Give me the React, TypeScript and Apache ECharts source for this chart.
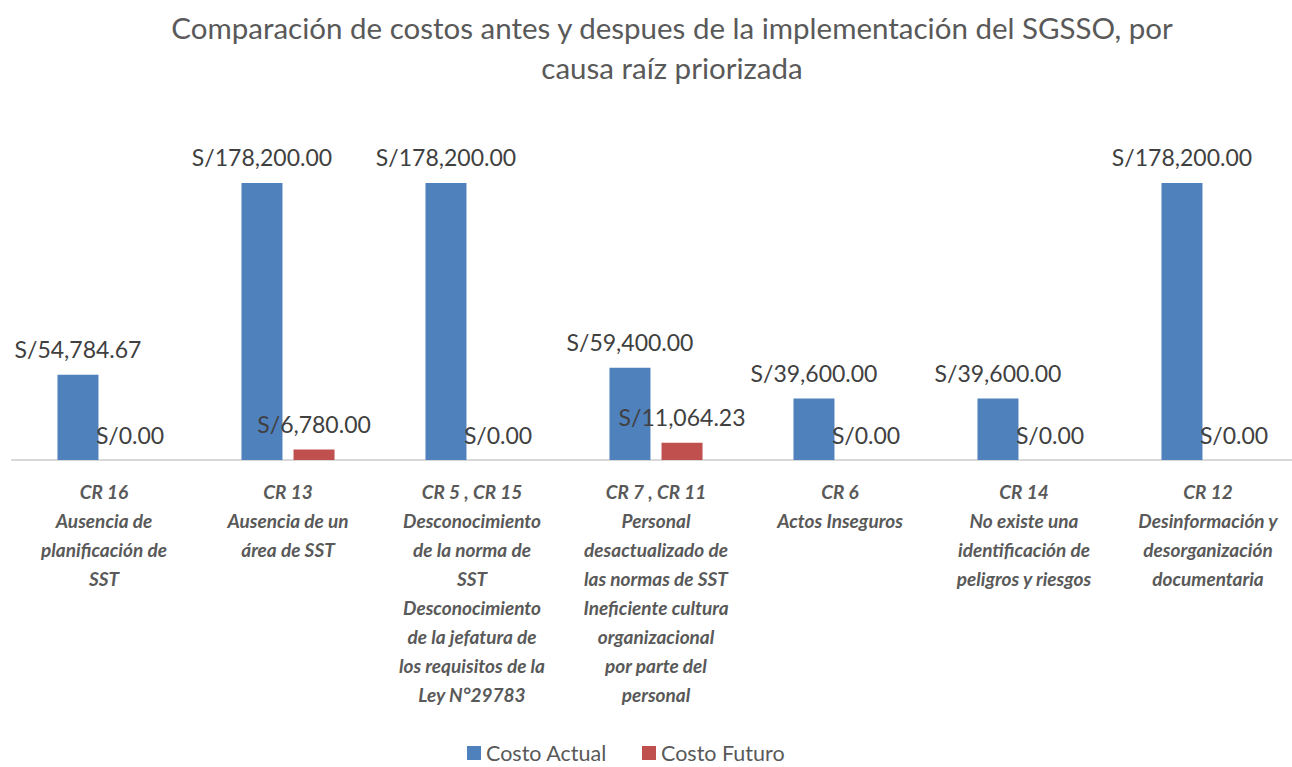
import React, { useEffect, useRef } from "react";
import * as echarts from "echarts";

const categories = [
  "CR 16\nAusencia de\nplanificación de\nSST",
  "CR 13\nAusencia de un\nárea de SST",
  "CR 5 , CR 15\nDesconocimiento\nde la norma de\nSST\nDesconocimiento\nde la jefatura de\nlos requisitos de la\nLey N°29783",
  "CR 7 , CR 11\nPersonal\ndesactualizado de\nlas normas de SST\nIneficiente cultura\norganizacional\npor parte del\npersonal",
  "CR 6\nActos Inseguros",
  "CR 14\nNo existe una\nidentificación de\npeligros y riesgos",
  "CR 12\nDesinformación y\ndesorganización\ndocumentaria",
];
const costoActual = [54784.67, 178200, 178200, 59400, 39600, 39600, 178200];
const costoFuturo = [0, 6780, 0, 11064.23, 0, 0, 0];
const seriesNames = ["Costo Actual", "Costo Futuro"];
const titleText = "Comparación de costos antes y despues de la implementación del SGSSO, por\ncausa raíz priorizada";

const FONT = "Lato, 'Open Sans', sans-serif";

const fmt = (v: number) =>
  "S/" + v.toLocaleString("en-US", { minimumFractionDigits: 2, maximumFractionDigits: 2 });

export default function App() {
  const ref = useRef<HTMLDivElement>(null);
  useEffect(() => {
    document.body.style.margin = "0";
    const chart = echarts.init(ref.current!, undefined, { renderer: "svg" });
    const label = {
      show: true,
      position: "top" as const,
      distance: 14,
      fontFamily: FONT,
      fontSize: 23,
      color: "#404040",
      formatter: (p: any) => fmt(p.value),
    };
    chart.setOption({
      animation: false,
      backgroundColor: "#ffffff",
      textStyle: { fontFamily: FONT },
      title: {
        text: titleText,
        left: 667,
        textAlign: "center",
        top: 2,
        textStyle: {
          fontFamily: FONT,
          fontSize: 29.5,
          fontWeight: "normal",
          color: "#595959",
          lineHeight: 40,
        },
      },
      legend: {
        data: seriesNames,
        left: 467,
        top: 742,
        padding: 0,
        itemWidth: 14,
        itemHeight: 14,
        itemGap: 35,
        icon: "rect",
        textStyle: { fontFamily: FONT, fontSize: 21.5, color: "#595959" },
      },
      grid: { left: 12, right: 0, top: 149, bottom: 307, containLabel: false },
      xAxis: {
        type: "category",
        data: categories,
        axisLine: { lineStyle: { color: "#D9D9D9", width: 2 } },
        axisTick: { show: false },
        axisLabel: {
          interval: 0,
          margin: 17,
          fontFamily: FONT,
          fontSize: 19,
          fontWeight: "bold",
          fontStyle: "italic",
          color: "#595959",
          lineHeight: 29,
          align: "center",
        },
      },
      yAxis: {
        type: "value",
        min: 0,
        max: 200000,
        show: false,
        splitLine: { show: false },
      },
      series: [
        {
          name: seriesNames[0],
          type: "bar",
          data: costoActual,
          barWidth: 41,
          barGap: "27%",
          itemStyle: { color: "#4F81BD" },
          label,
        },
        {
          name: seriesNames[1],
          type: "bar",
          data: costoFuturo,
          barWidth: 41,
          barGap: "27%",
          itemStyle: { color: "#C0504D" },
          label,
        },
      ],
    });
    return () => chart.dispose();
  }, []);
  return (
    <div style={{ width: 1292, height: 767, overflow: "hidden", position: "relative" }}>
      <div ref={ref} style={{ width: 1300, height: 767 }} />
    </div>
  );
}
